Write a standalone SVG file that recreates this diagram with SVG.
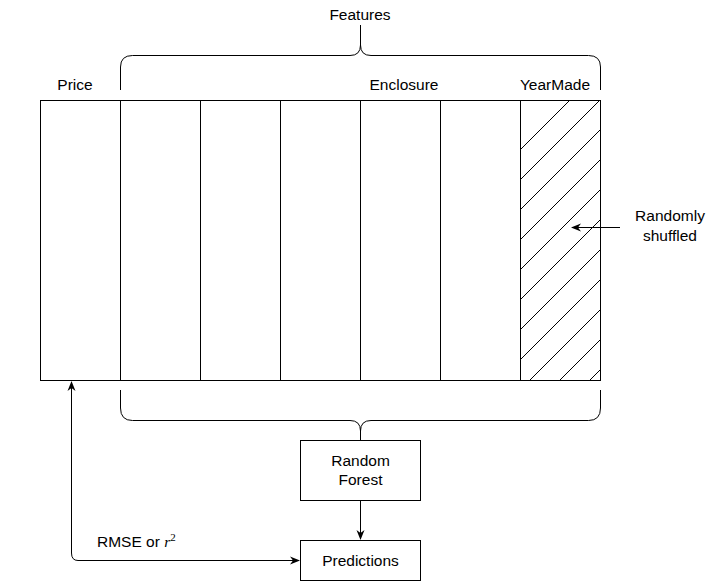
<svg xmlns="http://www.w3.org/2000/svg" width="721" height="581" viewBox="0 0 721 581">
<defs>
<style>
text{font-family:"Liberation Sans",Arial,sans-serif;font-size:15.5px;fill:#000;}
.s{fill:none;stroke:#000;stroke-width:1;}
.b{fill:#fff;stroke:#000;stroke-width:1;}
</style>
<marker id="ah" viewBox="0 0 10 10" refX="9" refY="5" markerWidth="10" markerHeight="10" markerUnits="userSpaceOnUse" orient="auto-start-reverse">
<path d="M0,1 L10,5 L0,9 L3,5 Z" fill="#000"/>
</marker>
<clipPath id="hc"><rect x="520.5" y="100.5" width="80" height="280"/></clipPath>
</defs>
<rect width="721" height="581" fill="#fff"/>
<g id="table">
<rect class="b" x="40.5" y="100.5" width="560" height="280"/>
<path class="s" d="M120.5,100.5V380.5M200.5,100.5V380.5M280.5,100.5V380.5M360.5,100.5V380.5M440.5,100.5V380.5M520.5,100.5V380.5"/>
<g clip-path="url(#hc)" class="s">
<path class="s" d="M520,150L570,100M520,180L600,100M520,210L610,120M520,240L610,150M520,270L610,180M520,300L610,210M520,330L610,240M520,360L610,270M510,400L610,300M540,400L610,330M570,400L610,360"/>
</g>
</g>
<g id="labels">
<text x="360" y="20" text-anchor="middle">Features</text>
<text x="75" y="90" text-anchor="middle">Price</text>
<text x="404" y="90" text-anchor="middle">Enclosure</text>
<text x="555" y="90" text-anchor="middle">YearMade</text>
<text x="670" y="221" text-anchor="middle">Randomly</text>
<text x="670" y="241" text-anchor="middle">shuffled</text>
<text x="97" y="547">RMSE or <tspan font-family="'Liberation Serif',serif" font-style="italic">r</tspan><tspan font-family="'Liberation Serif',serif" font-size="11px" dy="-6">2</tspan></text>
</g>
<g id="braces">
<path class="s" d="M120.5,90V67Q120.5,55.5 132.5,55.5H350Q360.5,55.5 360.5,45V25M600.5,90V67Q600.5,55.5 588.5,55.5H371Q360.5,55.5 360.5,45"/>
<path class="s" d="M120.5,390V408Q120.5,420.5 132.5,420.5H350Q360.5,420.5 360.5,431V440M600.5,390V408Q600.5,420.5 588.5,420.5H371Q360.5,420.5 360.5,431"/>
</g>
<g id="rf">
<rect class="b" x="300.5" y="440.5" width="120" height="60"/>
<text x="360.5" y="466" text-anchor="middle">Random</text>
<text x="360.5" y="485" text-anchor="middle">Forest</text>
</g>
<g id="pred">
<rect class="b" x="300.5" y="540.5" width="120" height="40"/>
<text x="360.5" y="566" text-anchor="middle">Predictions</text>
</g>
<g id="connectors">
<path class="s" d="M360.5,500.5V539" marker-end="url(#ah)"/>
<path class="s" d="M299,560.5H78Q71.5,560.5 71.5,553V382" marker-start="url(#ah)" marker-end="url(#ah)"/>
<path class="s" d="M620,227.5H572" marker-end="url(#ah)"/>
</g>
</svg>
